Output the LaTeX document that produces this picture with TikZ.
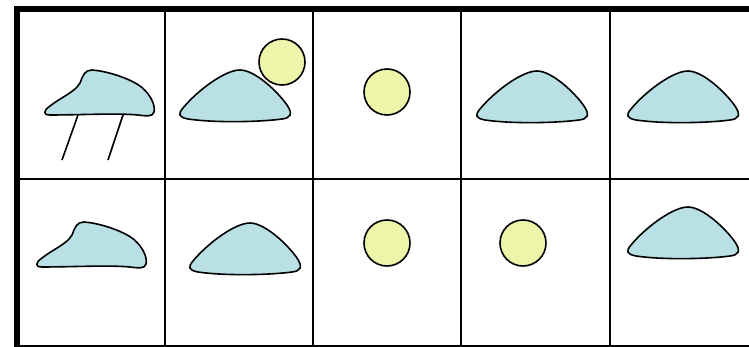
\documentclass[tikz,border=0pt]{standalone}
\usetikzlibrary{positioning}
\definecolor{moundblue}{RGB}{185,224,228}
\definecolor{sunyellow}{RGB}{238,244,170}

\begin{document}
\begin{tikzpicture}[
      x=1pt, y=-1pt,
      frame/.style={line width=6pt, line cap=rect},
      grid/.style={line width=2pt},
      sun/.style={circle, draw=black, fill=sunyellow, line width=1.6pt,
                  minimum size=46pt, inner sep=0pt},
      mound/.pic={
        \draw[fill=moundblue, line width=1.6pt]
          (-57,38) .. controls (-42,20) and (-15,0) .. (0,0)
          .. controls (15,0) and (38,22) .. (47,35)
          .. controls (53,44) and (51,48) .. (42,49)
          .. controls (20,52) and (-25,53) .. (-52,49)
          .. controls (-62,47) and (-62,44) .. (-57,38) -- cycle;},
      cloud/.pic={
        \draw[fill=moundblue, line width=1.6pt]
          (4,0) .. controls (18,1) and (37,7) .. (49,14)
          .. controls (61,21) and (68,35) .. (66,42)
          .. controls (65,47) and (58,46) .. (50,45)
          .. controls (30,43) and (-10,45) .. (-38,45)
          .. controls (-45,45) and (-45,41) .. (-38,36)
          .. controls (-28,28) and (-13,22) .. (-8,13)
          .. controls (-5,5) and (-3,0) .. (4,0) -- cycle;},
    ]
      \useasboundingbox (0,0) rectangle (749,347);

      % grid
      \foreach \gx in {165,313,461,610}
        \draw[grid] (\gx,9) -- (\gx,347);
      \draw[grid] (17,179) -- (760,179);
      \draw[grid] (17,346) -- (760,346);
      \draw[frame] (17,9) -- (760,9);
      \draw[frame] (17,9) -- (17,347);

      % top row
      \pic at (88,70) {cloud};
      \draw[line width=1.6pt] (78,115) -- (62,160);
      \draw[line width=1.6pt] (123,115) -- (108,160);
      \pic at (240,70) {mound};
      \node[sun] (sun1) at (282,62) {};
      \node[sun] (sun2) at (387,92) {};
      \pic at (537,71) {mound};
      \pic at (688,71) {mound};

      % bottom row
      \pic at (80,222) {cloud};
      \pic at (250,223) {mound};
      \node[sun] (sun3) at (387,243) {};
      \node[sun] (sun4) at (523,243) {};
      \pic at (688,207) {mound};
    \end{tikzpicture}
\end{document}
